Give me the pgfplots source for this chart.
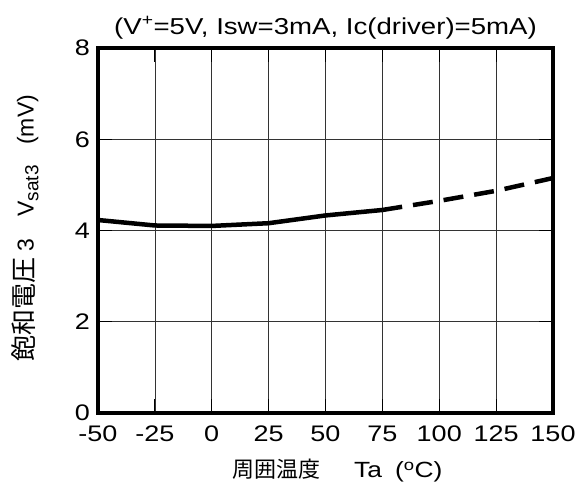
\documentclass[border=0pt]{standalone}
\usepackage{pgfplots}
\pgfplotsset{compat=1.18}
\usepackage{fontspec}
\setmainfont[FakeStretch=1.2]{Liberation Sans}
\newfontfamily\cjk[FakeStretch=1.2]{Noto Sans CJK JP}
\newfontfamily\plainfont{Liberation Sans}
\newfontfamily\cjkplain{Noto Sans CJK JP}
\begin{document}
\fontsize{23}{27}\selectfont
\begin{tikzpicture}
\begin{axis}[
  name=ax,
  scale only axis, width=455pt, height=365pt,
  xmin=-50, xmax=150, ymin=0, ymax=8,
  xtick={-50,-25,...,150}, ytick={0,2,...,8},
  grid=major, major grid style={black!80, line width=0.7pt},
  axis line style={line width=4.5pt},
  tick style={black, line width=1.2pt},
  tick align=inside,
  major tick length=14pt,
  /pgf/number format/assume math mode=true,
  ticklabel style={font=\fontsize{22.5}{27}\selectfont},
  xticklabel style={anchor=base, inner sep=0pt, yshift=-28pt},
  yticklabel style={anchor=east, inner sep=0pt, xshift=-8pt},
  every axis title shift=0pt,
  title style={font=\fontsize{23}{27}\selectfont, at={(axis description cs:0.5,1.038)}, anchor=base},
  title={(V\textsuperscript{+}=5V, Isw=3mA, Ic(driver)=5mA)},
  xlabel style={font=\fontsize{22}{27}\selectfont, inner sep=0pt, at={(axis description cs:0.2945,-0.178)}, anchor=base west},
  xlabel={{\cjkplain\fontsize{22}{27}\selectfont 周囲温度}\hspace{34pt}Ta\hspace{13pt}(\textsuperscript{o}C)},
  ylabel style={font=\fontsize{23}{27}\selectfont\plainfont, inner sep=0pt, at={(axis description cs:-0.16,0.14)}, anchor=west, rotate=0},
  ylabel={{\cjkplain\fontsize{26}{28}\selectfont 飽和電圧}\ 3\hspace{22pt}V\textsubscript{\fontsize{19}{20}\selectfont sat3}\hspace{20pt}(mV)},
]
\addplot[black, line width=4.5pt] coordinates {(-50,4.23)(-25,4.11)(0,4.10)(25,4.16)(50,4.33)(75,4.45)};
\addplot[black, line width=4.5pt, dash pattern=on 20pt off 11pt] coordinates {(75,4.45)(100,4.65)(125,4.87)(150,5.15)};
\end{axis}
\pgfresetboundingbox
\path[use as bounding box] (ax.south west) ++(-98pt,-69pt) rectangle ++(578pt,482pt);
\end{tikzpicture}
\end{document}
